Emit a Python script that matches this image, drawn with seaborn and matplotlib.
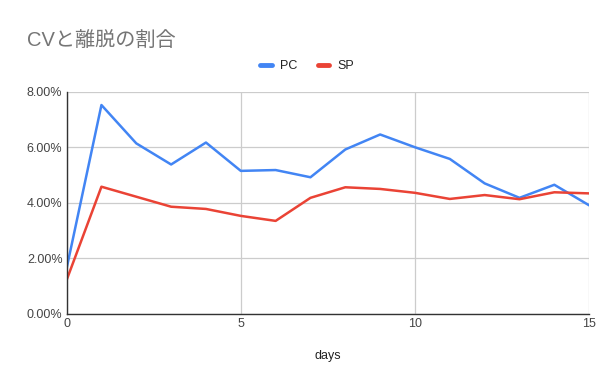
import matplotlib

matplotlib.use("Agg")
import matplotlib.pyplot as plt
import pandas as pd
import seaborn as sns
from matplotlib.ticker import FuncFormatter, MultipleLocator

days = list(range(16))
pc_rate = [1.64, 7.52, 6.14, 5.38, 6.17, 5.15, 5.18, 4.92, 5.92, 6.46, 6.00, 5.58, 4.70, 4.18, 4.65, 3.91]
sp_rate = [1.22, 4.58, 4.22, 3.86, 3.78, 3.53, 3.35, 4.18, 4.56, 4.50, 4.36, 4.14, 4.28, 4.13, 4.38, 4.34]
series = ["PC", "SP"]
colors = {"PC": "#4285F4", "SP": "#EA4335"}

frame = pd.DataFrame({
    "days": days * 2,
    "rate": pc_rate + sp_rate,
    "series": ["PC"] * len(days) + ["SP"] * len(days),
})

sns.set_theme(style="whitegrid")
plt.rcParams["font.family"] = ["Liberation Sans", "Noto Sans CJK JP", "DejaVu Sans"]

figure = plt.figure(figsize=(6.15, 3.91), dpi=100)
axis = figure.add_axes([0.1083, 0.197, 0.8497, 0.5685])
sns.lineplot(data=frame, x="days", y="rate", hue="series", hue_order=series,
             palette=colors, linewidth=1.8, ax=axis, legend=False)

axis.set_xlim(0, 15)
axis.set_ylim(0, 8)
axis.xaxis.set_major_locator(MultipleLocator(5))
axis.yaxis.set_major_locator(MultipleLocator(2))
axis.yaxis.set_major_formatter(FuncFormatter(lambda v, _: f"{v:.2f}%"))
axis.grid(True, color="#cccccc", linewidth=0.9)
for side in ("top", "right"):
    axis.spines[side].set_visible(False)
for side in ("left", "bottom"):
    axis.spines[side].set_color("#333333")
    axis.spines[side].set_linewidth(1.0)
axis.tick_params(axis="both", length=0, labelsize=9, colors="#444444", pad=3)
axis.set_xlabel("days", fontsize=9, color="#222222", labelpad=14)
axis.set_ylabel("")

figure.text(0.044, 0.897, "CVと離脱の割合", fontsize=14.5, color="#757575",
            family=["Liberation Sans", "Noto Sans CJK JP"], va="center", ha="left")

handles = [plt.Line2D([], [], color=colors[name], linewidth=3.5) for name in series]
figure.legend(handles, series, loc="center", bbox_to_anchor=(0.50, 0.83), ncol=2,
              frameon=False, fontsize=9, handlelength=0.9, columnspacing=1.6,
              handletextpad=0.7, labelcolor="#222222")

figure.savefig("out.png", dpi=100, facecolor="white")
